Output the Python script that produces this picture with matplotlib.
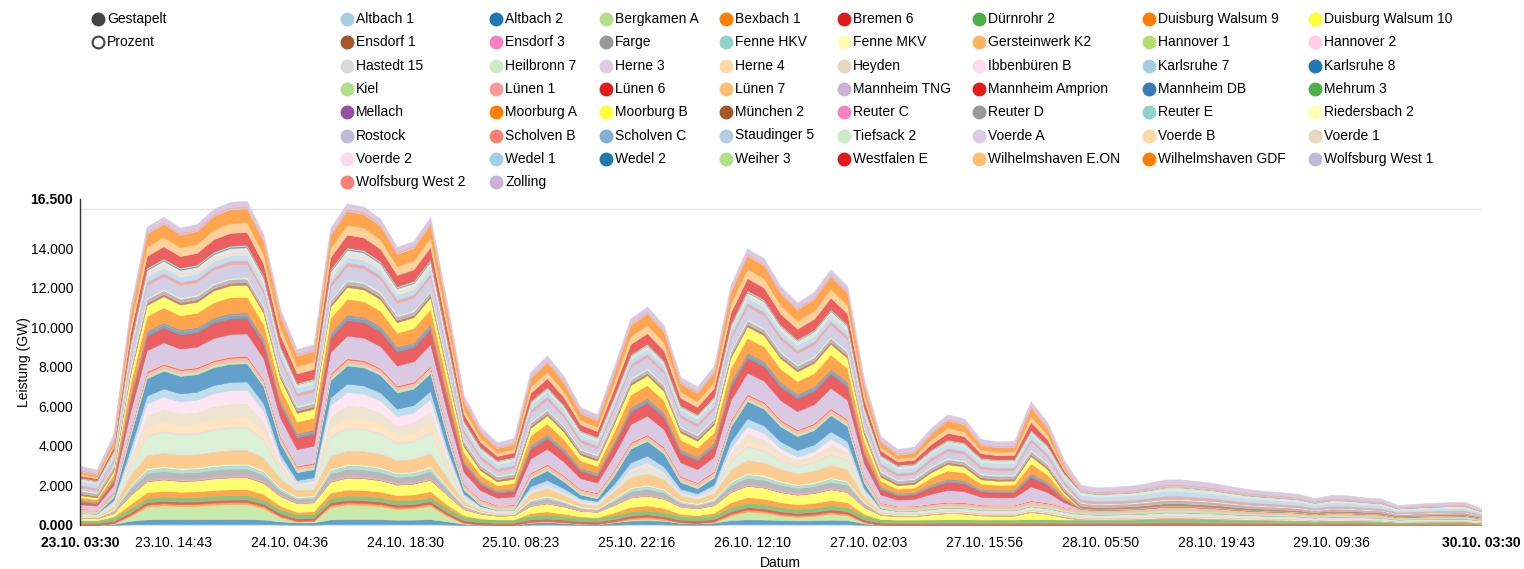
import numpy as np
import matplotlib
matplotlib.use("Agg")
import matplotlib.pyplot as plt
from matplotlib.lines import Line2D
from matplotlib.colors import to_rgb

plt.rcParams['font.family'] = ['Liberation Sans', 'DejaVu Sans']

# Stunden seit 23.10. 03:30, Werte alle 2 Stunden
stunden = list(range(0, 169, 2))

kraftwerke = [
    "Altbach 1", "Altbach 2", "Bergkamen A", "Bexbach 1", "Bremen 6", "Dürnrohr 2",
    "Duisburg Walsum 9", "Duisburg Walsum 10", "Ensdorf 1", "Ensdorf 3", "Farge",
    "Fenne HKV", "Fenne MKV", "Gersteinwerk K2", "Hannover 1", "Hannover 2",
    "Hastedt 15", "Heilbronn 7", "Herne 3", "Herne 4", "Heyden", "Ibbenbüren B",
    "Karlsruhe 7", "Karlsruhe 8", "Kiel", "Lünen 1", "Lünen 6", "Lünen 7",
    "Mannheim TNG", "Mannheim Amprion", "Mannheim DB", "Mehrum 3", "Mellach",
    "Moorburg A", "Moorburg B", "München 2", "Reuter C", "Reuter D", "Reuter E",
    "Riedersbach 2", "Rostock", "Scholven B", "Scholven C", "Staudinger 5",
    "Tiefsack 2", "Voerde A", "Voerde B", "Voerde 1", "Voerde 2", "Wedel 1",
    "Wedel 2", "Weiher 3", "Westfalen E", "Wilhelmshaven E.ON", "Wilhelmshaven GDF",
    "Wolfsburg West 1", "Wolfsburg West 2", "Zolling",
]

farben = [
    "#a6cee3", "#1f78b4", "#b2df8a", "#ff7f00", "#e31a1c", "#4daf4a",
    "#ff7f00", "#ffff33", "#a65628", "#f781bf", "#999999",
    "#8dd3c7", "#ffffb3", "#fdb462", "#b3de69", "#fccde5",
    "#d9d9d9", "#ccebc5", "#decbe4", "#fed9a6", "#e5d8bd", "#fddaec",
    "#a6cee3", "#1f78b4", "#b2df8a", "#fb9a99", "#e31a1c", "#fdbf6f",
    "#cab2d6", "#e41a1c", "#377eb8", "#4daf4a", "#984ea3",
    "#ff7f00", "#ffff33", "#a65628", "#f781bf", "#999999", "#8dd3c7",
    "#ffffb3", "#bebada", "#fb8072", "#80b1d3", "#b3cde3",
    "#ccebc5", "#decbe4", "#fed9a6", "#e5d8bd", "#fddaec", "#a6cee3",
    "#1f78b4", "#b2df8a", "#e31a1c", "#fdbf6f", "#ff7f00",
    "#bebada", "#fb8072", "#cab2d6",
]

# Bandbreite je Kraftwerk bei voller Fahrweise (MW) und Einsatzgruppe
leistung = [
    50, 250, 760, 100, 150, 250,
    300, 600, 30, 80, 340,
    200, 50, 670, 60, 60,
    60, 1000, 80, 500, 670, 670,
    420, 920, 150, 200, 50, 50,
    1100, 800, 150, 60, 60,
    800, 600, 150, 40, 150, 40,
    40, 700, 150, 60, 300,
    80, 80, 60, 60, 60, 60,
    60, 60, 650, 500, 700,
    60, 60, 300,
]
gruppe = [
    "S1", "S1", "S2", "S1", "G", "G",
    "S1", "M", "S2", "G", "S1",
    "S1", "G", "S1", "G", "G",
    "G", "S2", "G", "S2", "S2", "S2",
    "S1", "S1", "G", "G", "M", "M",
    "M", "M", "M", "G", "M",
    "M", "M", "G", "G", "G", "G",
    "G", "M", "G", "G", "G",
    "G", "G", "S2", "S2", "S2", "G",
    "S2", "G", "M", "M", "M",
    "G", "G", "G",
]

# Summen der Gruppen (MW)
grundlast = [1800, 1750, 2000, 2300, 2400, 2400, 2400, 2400, 2450, 2500,
             2520, 2450, 2350, 2300, 2300, 2450, 2500, 2500, 2450, 2400,
             2400, 2450, 2350, 2200, 2100, 2000, 2000, 2200, 2250, 2200,
             2100, 2100, 2200, 2300, 2300, 2300, 2200, 2200, 2250, 2400,
             2450, 2450, 2400, 2350, 2400, 2400, 2400, 2200, 2000, 1950,
             1950, 2000, 2050, 2050, 2000, 2000, 2000, 2100, 2050, 2000,
             2030, 1900, 1940, 1990, 2120, 2300, 2310, 2220, 2120, 1960,
             1820, 1730, 1660, 1580, 1360, 1520, 1500, 1400, 1340, 1010,
             1070, 1120, 1150, 1170, 850]
mittellast = [1200, 1050, 1900, 5200, 6300, 6400, 6100, 6200, 6600, 6760,
              6760, 6300, 5500, 5000, 5100, 6300, 6760, 6700, 6500, 6000,
              6100, 6500, 5500, 3500, 2700, 2180, 2400, 4200, 4600, 4100,
              3200, 3000, 4300, 5400, 5600, 5300, 4100, 3900, 4400, 5900,
              6400, 6300, 5800, 5500, 5700, 6100, 5800, 4000, 2400, 1900,
              2000, 2900, 3550, 3350, 2350, 2230, 2250, 4170, 3150, 1280] + [0] * 25
spitze1 = [0, 0, 600, 2300, 3100, 3200, 3150, 3150, 3200, 3250,
           3250, 3000, 2000, 1400, 1450, 3050, 3250, 3250, 3150, 2900,
           2950, 3200, 2000, 700, 200, 0, 0, 1360, 1730, 1230,
           670, 500, 1500, 2460, 2650, 2320, 1200, 900, 1300, 2650,
           3100, 3000, 2700, 2500, 2600, 2900, 2700, 1000, 100, 0] + [0] * 35
spitze2 = [0, 0, 100, 1150, 3300, 3600, 3400, 3480, 3750, 3850,
           3870, 2950, 1080, 200, 300, 3230, 3760, 3670, 3400, 2780,
           2930, 3450, 1420, 180, 0, 0, 0, 0, 0, 0,
           0, 0, 0, 300, 500, 200, 0, 0, 100, 1200,
           2050, 1750, 1180, 910, 1100, 1550, 1200, 200, 0, 0] + [0] * 35

x_labels = ["23.10. 03:30", "23.10. 14:43", "24.10. 04:36", "24.10. 18:30",
            "25.10. 08:23", "25.10. 22:16", "26.10. 12:10", "27.10. 02:03",
            "27.10. 15:56", "28.10. 05:50", "28.10. 19:43", "29.10. 09:36",
            "30.10. 03:30"]
y_ticks = [0, 2, 4, 6, 8, 10, 12, 14, 16.5]


def label_to_hours(s):
    day = int(s[:2])
    hh, mm = s.split(" ")[1].split(":")
    return (day - 23) * 24 + int(hh) + int(mm) / 60 - 3.5


gruppen = {"G": grundlast, "M": mittellast, "S1": spitze1, "S2": spitze2}
stapel = []
for mw, g in zip(leistung, gruppe):
    summe = sum(l for l, gg in zip(leistung, gruppe) if gg == g)
    stapel.append(np.array(gruppen[g]) * mw / summe / 1000)

# nvd3-Flächen sind halbtransparent (0.7) auf weiß
flaechen = [tuple(0.7 * c + 0.3 for c in to_rgb(f)) for f in farben]

W, H = 1524, 569
fs = 10
fig = plt.figure(figsize=(W / 100, H / 100), dpi=100)
ax = fig.add_axes([80 / W, 1 - 525 / H, 1401 / W, 326 / H])

ax.stackplot(stunden, stapel, colors=flaechen, linewidth=0.4,
             edgecolor='face', zorder=2)

ax.set_xlim(0, 168)
ax.set_ylim(0, 16.5)

x_pos = [label_to_hours(s) for s in x_labels]
ax.set_xticks(x_pos)
ax.set_xticklabels(x_labels)
ax.set_xticks(x_pos[1:-1], minor=True)
ax.set_yticks(y_ticks)
ax.set_yticklabels(["%.3f" % v for v in y_ticks])
ax.set_yticks(list(range(2, 17, 2)), minor=True)
ax.grid(False)
ax.grid(True, which='minor', color='#e5e5e5', linewidth=1, zorder=0)
ax.set_axisbelow(True)
ax.tick_params(which='both', length=0, labelsize=fs, colors='#000')
ax.tick_params(axis='x', pad=8)
ax.tick_params(axis='y', pad=5)
for t in (ax.get_xticklabels()[0], ax.get_xticklabels()[-1],
          ax.get_yticklabels()[0], ax.get_yticklabels()[-1]):
    t.set_fontweight('bold')

for s in ('top', 'right', 'bottom'):
    ax.spines[s].set_visible(False)
ax.spines['left'].set_color('#333333')
ax.spines['left'].set_linewidth(1)

fig.text(24 / W, 1 - 362 / H, "Leistung (GW)", rotation=90, ha='center',
         va='center', fontsize=fs)
fig.text(780 / W, 1 - 563 / H, "Datum", ha='center', va='center', fontsize=fs)

# Legende
def legend_item(x, y, text, face, edge):
    fig.add_artist(Line2D([x / W], [1 - y / H], transform=fig.transFigure,
                          marker='o', markersize=8.5, markerfacecolor=face,
                          markeredgecolor=edge, markeredgewidth=1.5,
                          linestyle='none'))
    fig.text((x + 9) / W, 1 - y / H, text, ha='left', va='center',
             fontsize=fs, color='#000')


legend_item(98, 19, "Gestapelt", '#444444', '#444444')
legend_item(98, 42, "Prozent", 'white', '#444444')

spalten_x = [347, 496, 606, 726, 844, 979, 1149, 1315]
for i, (name, farbe) in enumerate(zip(kraftwerke, farben)):
    zeile, spalte = divmod(i, 8)
    legend_item(spalten_x[spalte], 19 + zeile * 23.3, name, farbe, farbe)

fig.savefig("out.png", dpi=100)
